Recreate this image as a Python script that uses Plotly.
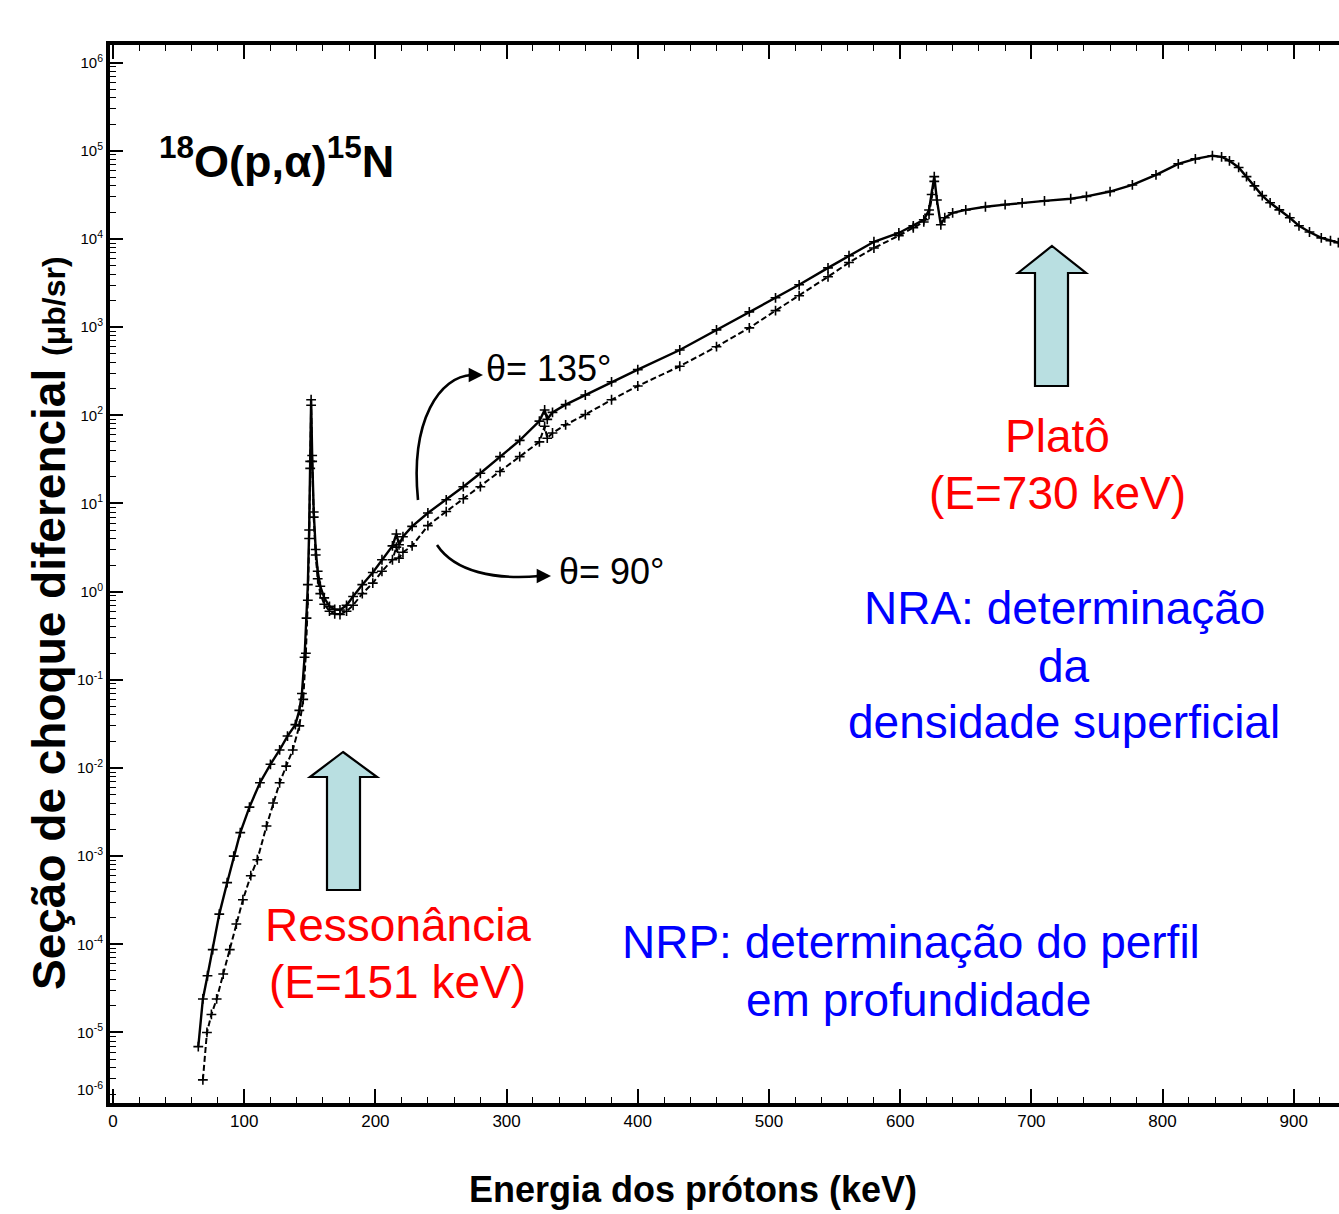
import plotly.graph_objects as go

# Differential cross section of 18O(p,alpha)15N vs proton energy
energy_135 = [65, 68.5, 72, 76, 81, 87, 92, 97, 104, 112,
              120, 127, 133, 139, 142, 144, 146, 147.5, 148.5, 149.5,
              150.3, 151, 151.8, 153, 154.5, 156, 158, 161, 165, 169,
              173, 178, 183, 190, 198, 205, 213, 216, 218, 221,
              228, 240, 254, 267, 280, 295, 310, 325, 329, 331,
              335, 345, 360, 380, 400, 432, 460, 485, 505, 523,
              545, 561, 580, 599, 610, 618, 622, 624, 626, 628,
              631, 634, 640, 650, 665, 680, 693, 710, 730, 742,
              760, 777, 795, 812, 825, 838, 845, 851, 858, 864,
              870, 876, 882, 889, 897, 904, 912, 921, 928, 934]
xsec_135 = [6.9e-6, 2.4e-5, 4.4e-5, 8.7e-5, 2.2e-4, 5.0e-4, 1.0e-3, 1.85e-3, 3.6e-3, 6.8e-3,
            1.1e-2, 1.6e-2, 2.3e-2, 3.1e-2, 4.5e-2, 7.0e-2, 0.18, 0.5, 1.2, 5.0,
            30, 150, 35, 8.0, 3.0, 1.7, 1.15, 0.85, 0.68, 0.63,
            0.62, 0.70, 0.88, 1.2, 1.65, 2.3, 3.3, 4.5, 3.4, 4.2,
            5.5, 7.8, 11, 15.5, 22, 34, 52, 86, 115, 90,
            108, 132, 170, 240, 330, 550, 930, 1490, 2150, 3020,
            4700, 6450, 9300, 11700, 14100, 16500, 21300, 32000, 51000, 27700,
            14500, 17400, 19800, 21400, 23200, 24500, 25700, 27000, 28600, 30400,
            34500, 41000, 53400, 71000, 81000, 88000, 85500, 77000, 64700, 51000,
            40000, 31000, 25700, 21400, 17400, 14100, 12000, 10300, 9550, 9100]

energy_90 = [68.5, 71.6, 75, 79, 84, 89, 94, 99, 105, 110,
             117, 122, 127, 132, 137, 142, 145, 147, 148.5, 149.5,
             150.3, 151, 151.8, 153, 154.5, 156, 158, 161, 165, 169,
             173, 178, 183, 190, 198, 205, 213, 216, 218, 221,
             228, 240, 254, 267, 280, 295, 310, 325, 329, 331,
             335, 345, 360, 380, 400, 432, 460, 485, 505, 523,
             545, 561, 580, 599, 610, 618, 622, 626]
xsec_90 = [2.9e-6, 1.0e-5, 1.6e-5, 2.4e-5, 4.6e-5, 8.7e-5, 1.7e-4, 3.2e-4, 6.0e-4, 9.1e-4,
           2.2e-3, 4.0e-3, 6.8e-3, 1.05e-2, 1.6e-2, 3.0e-2, 6.0e-2, 0.2, 0.8, 4.0,
           25, 130, 30, 7.0, 2.6, 1.4, 0.95, 0.72, 0.60, 0.56,
           0.55, 0.60, 0.70, 0.95, 1.25, 1.7, 2.3, 3.2, 2.4, 2.8,
           3.3, 5.6, 8.1, 11.3, 15.5, 23, 34, 50, 75, 55,
           63, 78, 102, 150, 215, 360, 600, 980, 1540, 2270,
           3730, 5400, 7900, 10900, 13400, 15600, 19000, 45000]

x_ticks = [0, 100, 200, 300, 400, 500, 600, 700, 800, 900]
y_exponents = [-5, -4, -3, -2, -1, 0, 1, 2, 3, 4, 5, 6]

# figure geometry (pixels)
W, H = 1339, 1214
ML, MR, MT, MB = 110, 0, 45, 111
PW = W - ML - MR
PH = H - MT - MB


def fx(x):
    return (x - ML) / PW


def fy(y):
    return (H - MB - y) / PH


def path(points, close=False):
    s = "M " + " L ".join(f"{fx(x):.5f},{fy(y):.5f}" for x, y in points)
    return s + (" Z" if close else "")


def block_arrow(tip_x, tip_y, head_l, head_r, head_y, shaft_l, shaft_r, bottom):
    pts = [(tip_x, tip_y), (head_r, head_y), (shaft_r, head_y), (shaft_r, bottom),
           (shaft_l, bottom), (shaft_l, head_y), (head_l, head_y)]
    return dict(type="path", xref="paper", yref="paper", path=path(pts, True),
                fillcolor="#b9dfe1", line=dict(color="black", width=2.2), layer="above")


def curve(p0, c1, c2, p1):
    pts = [p0, c1, c2, p1]
    s = f"M {fx(pts[0][0]):.5f},{fy(pts[0][1]):.5f} C " + " ".join(
        f"{fx(x):.5f},{fy(y):.5f}" for x, y in pts[1:])
    return dict(type="path", xref="paper", yref="paper", path=s,
                line=dict(color="black", width=2.6))


fig = go.Figure()

fig.add_trace(go.Scatter(
    x=energy_90, y=xsec_90, mode="lines+markers", name="θ = 90°",
    line=dict(color="black", width=2, dash="6px,3px"),
    marker=dict(symbol="cross-thin", size=7, line=dict(color="black", width=1.6)),
))
fig.add_trace(go.Scatter(
    x=energy_135, y=xsec_135, mode="lines+markers", name="θ = 135°",
    line=dict(color="black", width=2.4),
    marker=dict(symbol="cross-thin", size=7, line=dict(color="black", width=1.6)),
))

narrow = "Liberation Sans Narrow, Arial Narrow, Liberation Sans, Arial"
sans = "Liberation Sans, Arial"

annotations = []


def label(text, x, y, size, color="black", family=sans, angle=0):
    annotations.append(dict(text=text, x=fx(x), y=fy(y), xref="paper", yref="paper",
                            showarrow=False, xanchor="center", yanchor="middle",
                            textangle=angle, font=dict(size=size, color=color, family=family)))


label("<b><sup>18</sup>O(p,α)<sup>15</sup>N</b>", 276, 158, 45, family=sans)
label("θ= 135°", 549, 368, 36, family=narrow)
label("θ= 90°", 612, 571, 36, family=narrow)

label("Ressonância", 398, 925, 46, color="#ff0000")
label("(E=151 keV)", 397, 982, 46, color="#ff0000")
label("Platô", 1057, 436, 46, color="#ff0000")
label("(E=730 keV)", 1057, 493, 46, color="#ff0000")

label("NRA: determinação", 1064, 608, 46, color="#0000ff")
label("da", 1064, 666, 46, color="#0000ff")
label("densidade superficial", 1064, 722, 46, color="#0000ff")
label("NRP: determinação do perfil", 911, 942, 46, color="#0000ff")
label("em profundidade", 918, 1000, 46, color="#0000ff")

# axis titles
label("<b>Seção de choque diferencial</b> <span style='font-size:32px'><b>(μb/sr)</b></span>",
      49, 623, 46, angle=-90)
label("<b>Energia dos prótons (keV)</b>", 693, 1189, 36, family=narrow)

# bottom decade label sitting in the corner below the axis range
label("10<sup>-6</sup>", 90, 1088, 15, family=narrow)

# arrowheads for the curved pointers
for tip_x, tip_y in [(483, 375), (551, 576)]:
    annotations.append(dict(text="", x=fx(tip_x), y=fy(tip_y), xref="paper", yref="paper",
                            showarrow=True, arrowhead=2, arrowsize=1.1, arrowwidth=2.6,
                            arrowcolor="black", ax=-16, ay=0))

shapes = [
    curve((418, 500), (410, 420), (440, 376), (472, 375)),
    curve((437, 545), (455, 572), (495, 580), (540, 576)),
    block_arrow(343, 752, 310, 377, 777, 327, 360, 890),
    block_arrow(1052, 246, 1018, 1086, 273, 1035, 1068, 386),
]

fig.update_layout(
    width=W, height=H,
    margin=dict(l=ML, r=MR, t=MT, b=MB, pad=0),
    paper_bgcolor="white", plot_bgcolor="white",
    showlegend=False,
    annotations=annotations,
    shapes=shapes,
    font=dict(family=sans, color="black"),
)

y_tick_vals = [10.0 ** p for p in y_exponents]
y_tick_text = [f"10<sup>{p}</sup>" for p in y_exponents]
y_minor_vals = [m * 10.0 ** p for p in range(-6, 7) for m in range(2, 10)]

fig.update_xaxes(
    range=[-2.3, 934.5], tickvals=x_ticks, ticktext=[str(v) for v in x_ticks],
    ticks="inside", ticklen=14, tickwidth=1.6, tickcolor="black",
    showline=True, linewidth=4, linecolor="black", mirror="ticks",
    showgrid=False, zeroline=False,
    tickfont=dict(size=17, family=narrow, color="black"),
    minor=dict(dtick=20, tick0=0, ticks="inside", ticklen=6, tickwidth=1.3, tickcolor="black"),
)
fig.update_yaxes(
    type="log", range=[-5.8, 6.2], tickvals=y_tick_vals, ticktext=y_tick_text,
    ticks="inside", ticklen=13, tickwidth=1.8, tickcolor="black",
    showline=True, linewidth=4, linecolor="black", mirror=False,
    showgrid=False, zeroline=False,
    tickfont=dict(size=15, family=narrow, color="black"),
    minor=dict(tickmode="array", tickvals=y_minor_vals, ticks="inside", ticklen=6,
               tickwidth=1.3, tickcolor="black", showgrid=False),
)

fig.write_html("out.html")
